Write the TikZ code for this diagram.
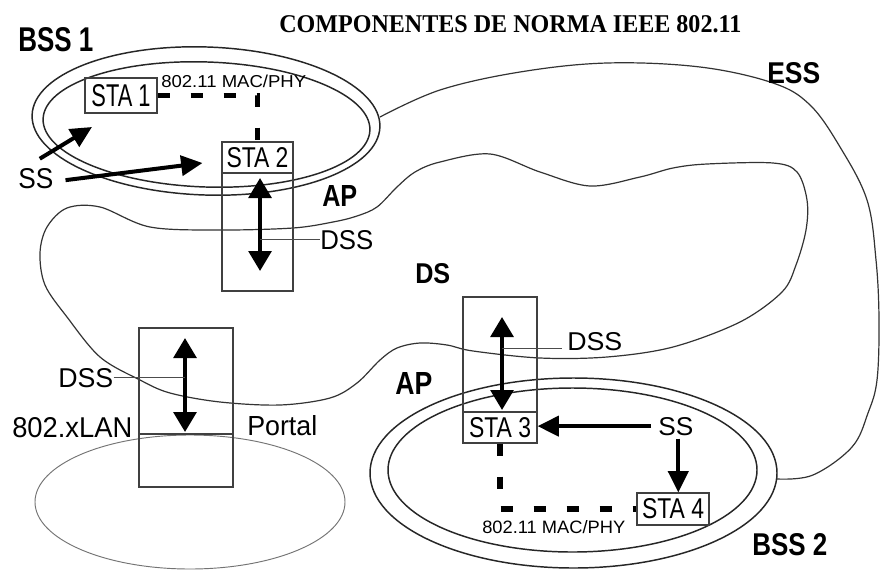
\documentclass[tikz,border=0pt]{standalone}
\usepackage{fontspec}
\setmainfont{Liberation Sans}
\newfontfamily\titlefont{Liberation Serif}
\usetikzlibrary{arrows.meta,calc}
\newdimen\pxu \pxu=0.75pt
\newcommand\fitlbl[3]{\resizebox{#1\pxu}{#2\pxu}{#3}}
\begin{document}
\begin{tikzpicture}[x=0.75pt,y=-0.75pt,
  lbl/.style={inner sep=0pt, anchor=base west, text=black},
  box/.style={draw=black!75, line width=0.8pt, inner sep=0pt, text=black},
  rim/.style={draw=black!85, line width=1.1pt},
  curve/.style={draw=black!80, line width=0.9pt},
  bigarrow/.style={line width=3pt, -{Triangle[length=16pt,width=15pt]}},
  dblarrow/.style={line width=3pt, {Triangle[length=15pt,width=17pt]}-{Triangle[length=15pt,width=17pt]}},
  macdash/.style={line width=4pt, dash pattern=on 9pt off 15.75pt},
  leader/.style={draw=black!70, line width=0.6pt}]

\useasboundingbox (0,0) rectangle (880,571);
\fill[white] (0,0) rectangle (880,571);

% DS region
\draw[curve] plot[smooth cycle, tension=0.55] coordinates {
 (440,162) (490,154) (540,172) (590,186) (640,177) (673,168) (707,164)
 (773,163) (797,172) (807,200) (806,230) (796,265) (782,292) (740,322)
 (673,347) (607,357) (540,358) (473,351) (447,345) (420,343) (397,348)
 (380,360) (357,383) (330,398) (280,405) (220,402) (170,393) (140,380)
 (100,357) (67,317) (45,285) (40,253) (47,227) (67,208) (100,207)
 (150,227) (220,230) (293,228) (333,222) (357,216) (377,207) (397,187)
 (415,172)};

% ESS curve
\draw[curve] plot[smooth, tension=0.6] coordinates {
 (380,117) (440,90) (520,72) (607,63) (700,67) (773,83) (810,105)
 (840,147) (867,200) (876,260) (879,320) (877,380) (868,413) (852,447)
 (813,475) (777,479)};

% BSS ellipses
\draw[rim, rotate around={-2:(206,121)}] (206,121) ellipse [x radius=174, y radius=74];
\draw[rim, rotate around={-2:(206.5,124.5)}] (206.5,124.5) ellipse [x radius=163.5, y radius=62.5];
\draw[rim] (573.5,473) ellipse [x radius=203.5, y radius=95];
\draw[rim] (572.5,470) ellipse [x radius=184.5, y radius=82];

% LAN ellipse
\draw[draw=black!55, line width=0.7pt] (190,502) ellipse [x radius=155, y radius=67];

% boxes
\node[box, minimum width=53.25pt, minimum height=111.75pt] (apa) at (257.5,216.5) {};
\node[box, minimum width=53.25pt, minimum height=23.25pt] (sta2) at (257.5,157.5) {\fitlbl{62}{20}{STA 2}};
\node[box, minimum width=54pt, minimum height=26.25pt] (sta1) at (121,95.5) {\fitlbl{59}{22}{STA 1}};
\node[box, minimum width=70.5pt, minimum height=119.25pt] (portalbox) at (186,407.5) {};
\draw[box] (portalbox.west |- 0,434) -- (portalbox.east |- 0,434);
\node[box, minimum width=55.5pt, minimum height=109.5pt] (apb) at (500,370) {};
\node[box, minimum width=55.5pt, minimum height=23.25pt] (sta3) at (500,427.5) {\fitlbl{62}{20}{STA 3}};
\node[box, minimum width=54pt, minimum height=24pt] (sta4) at (673,509) {\fitlbl{62}{20}{STA 4}};

% labels
\node[lbl] (title) at (279,32) {\fitlbl{462}{17}{\titlefont\bfseries COMPONENTES DE NORMA IEEE 802.11}};
\node[lbl] (bss1) at (18,51) {\fitlbl{75}{24}{\bfseries BSS 1}};
\node[lbl] (mac1) at (161,87) {\fitlbl{145}{12.5}{802.11 MAC/PHY}};
\node[lbl] (ss1) at (18,188) {\fitlbl{35}{20}{SS}};
\node[lbl] (aplbl1) at (322,206) {\fitlbl{35}{21}{\bfseries AP}};
\node[lbl] (dss1) at (320,249) {\fitlbl{53}{19}{DSS}};
\node[lbl] (ds) at (415,283) {\fitlbl{35}{20}{\bfseries DS}};
\node[lbl] (ess) at (767,83) {\fitlbl{53}{21}{\bfseries ESS}};
\node[lbl] (dss2) at (58,387) {\fitlbl{55}{19}{DSS}};
\node[lbl] (lan) at (12,437) {\fitlbl{120}{20}{802.xLAN}};
\node[lbl] (portal) at (247,435) {\fitlbl{70}{20}{Portal}};
\node[lbl] (aplbl2) at (395,394) {\fitlbl{37}{22}{\bfseries AP}};
\node[lbl] (dss3) at (567,350) {\fitlbl{55}{18}{DSS}};
\node[lbl] (ss2) at (658,435) {\fitlbl{35}{18}{SS}};
\node[lbl] (mac2) at (482,533) {\fitlbl{143}{13}{802.11 MAC/PHY}};
\node[lbl] (bss2) at (752,555) {\fitlbl{75}{22}{\bfseries BSS 2}};

% MAC/PHY dashed links
\draw[macdash] (sta1.east) -| (sta2.north);
\draw[macdash] (sta3.south) |- (sta4.west);

% DSS double arrows
\coordinate (d1a) at (260,178); \coordinate (d1b) at (260,271);
\coordinate (d2a) at (185,338); \coordinate (d2b) at (185,432);
\coordinate (d3a) at (502,317); \coordinate (d3b) at (502,410);
\draw[dblarrow] (d1a) -- (d1b);
\draw[dblarrow] (d2a) -- (d2b);
\draw[dblarrow] (d3a) -- (d3b);

% leaders
\draw[leader] (d1a |- dss1.west) -- (dss1.west);
\draw[leader] (dss2.east) -- (d2a |- dss2.east);
\coordinate (d3m) at (502,348);
\draw[leader] (d3m) -- ($(d3m -| dss3.west)+(-5,0)$);

% SS arrows
\coordinate (s1tip) at (92,127);
\draw[bigarrow] ($(ss1.north)+(4,-9)$) -- (s1tip);
\draw[bigarrow] ($(ss1.east)+(12,2)$) -- ($(sta2.west)+(-19,5.5)$);
\draw[bigarrow] ($(ss2.west)+(-7,0)$) -- (sta3.east |- ss2.west);
\draw[bigarrow] ($(ss2.south)+(2.5,3)$) coordinate (s2a) -- (s2a |- sta4.north);
\end{tikzpicture}
\end{document}
